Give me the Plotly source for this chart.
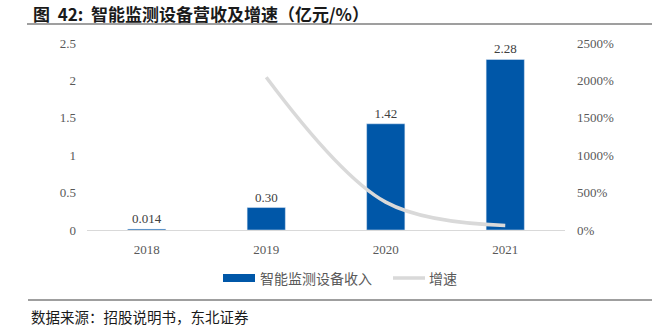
import plotly.graph_objects as go

years = ["2018", "2019", "2020", "2021"]
revenue = [0.014, 0.30, 1.42, 2.28]
rev_labels = ["0.014", "0.30", "1.42", "2.28"]
growth_years = ["2019", "2020", "2021"]
growth = [2043, 373, 61]

L, R, T, B = 87, 565, 43, 230
W, H = R - L, B - T
def px(x):
    return (x - L) / W
def py(y):
    return (B - y) / H

fig = go.Figure()
fig.add_trace(go.Bar(
    x=years, y=revenue, name="智能监测设备收入",
    marker=dict(color="#0057A8"),
    text=rev_labels, textposition="outside",
    textfont=dict(family="Liberation Serif", size=13, color="#404040"),
    cliponaxis=False,
))
fig.add_trace(go.Scatter(
    x=growth_years, y=growth, name="增速", yaxis="y2", mode="lines",
    line=dict(color="#D9D9D9", width=3.5, shape="spline", smoothing=1.0),
))

tickfont = dict(family="Liberation Serif", size=13, color="#595959")
cjk = "Noto Sans CJK SC"
fig.update_layout(
    width=652, height=333,
    margin=dict(l=L, r=652 - R, t=T, b=333 - B),
    plot_bgcolor="white", paper_bgcolor="white",
    bargap=0.68,
    showlegend=False,
    xaxis=dict(showgrid=False, showline=True, linecolor="#D9D9D9", linewidth=1,
               ticks="", tickfont=tickfont, ticklabelstandoff=7),
    yaxis=dict(range=[0, 2.5], dtick=0.5, showgrid=False, zeroline=False,
               tickfont=tickfont, ticks="", ticklabelstandoff=10),
    yaxis2=dict(range=[0, 2500], dtick=500, overlaying="y", side="right",
                showgrid=False, zeroline=False, ticksuffix="%",
                tickfont=tickfont, ticks="", ticklabelstandoff=11),
    shapes=[
        dict(type="line", xref="paper", yref="paper", x0=px(27), x1=px(652),
             y0=py(24), y1=py(24), line=dict(color="#404040", width=1.2)),
        dict(type="line", xref="paper", yref="paper", x0=px(28), x1=px(652),
             y0=py(300), y1=py(300), line=dict(color="#404040", width=1.2)),
        # legend symbols
        dict(type="rect", xref="paper", yref="paper", x0=px(223), x1=px(255),
             y0=py(282), y1=py(274), fillcolor="#0057A8", line=dict(width=0)),
        dict(type="line", xref="paper", yref="paper", x0=px(393), x1=px(425),
             y0=py(278), y1=py(278), line=dict(color="#D9D9D9", width=3.5)),
    ],
    annotations=[
        dict(text="<b>图  42:  智能监测设备营收及增速（亿元/%）</b>", xref="paper", yref="paper",
             x=px(31), y=py(13), xanchor="left", yanchor="middle",
             showarrow=False, font=dict(family=cjk, size=17, color="#1a1a1a")),
        dict(text="数据来源：招股说明书，东北证券", xref="paper", yref="paper",
             x=px(29), y=py(316), xanchor="left", yanchor="middle",
             showarrow=False, font=dict(family=cjk, size=14.5, color="#1a1a1a")),
        dict(text="智能监测设备收入", xref="paper", yref="paper",
             x=px(258), y=py(278), xanchor="left", yanchor="middle",
             showarrow=False, font=dict(family=cjk, size=14, color="#595959")),
        dict(text="增速", xref="paper", yref="paper",
             x=px(427), y=py(278), xanchor="left", yanchor="middle",
             showarrow=False, font=dict(family=cjk, size=14, color="#595959")),
    ],
)
fig.write_html("out.html")
